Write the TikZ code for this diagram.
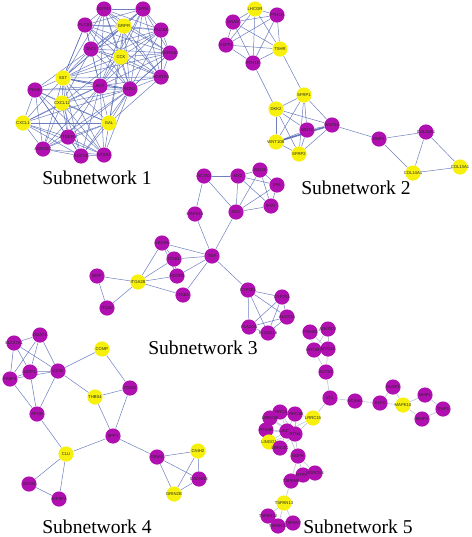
\documentclass[tikz,border=0pt]{standalone}
\usepackage{fontspec}
\setmainfont{Liberation Serif}
\newfontfamily\genefont{Liberation Sans}
\usetikzlibrary{backgrounds}

\definecolor{genepurple}{RGB}{176,16,176}
\definecolor{geneyellow}{RGB}{246,240,12}
\definecolor{linkblue}{RGB}{84,104,180}
\definecolor{linkgrey}{RGB}{186,194,214}

\tikzset{
  genetext/.style={inner sep=0pt,font=\genefont\fontsize{2.1}{2.3}\selectfont,text=black!85},
  gene/.style={circle,inner sep=0pt,minimum size=7.6pt,label={[genetext]center:#1}},
  pgene/.style={gene=#1,fill=genepurple},
  ygene/.style={gene=#1,fill=geneyellow},
  link/.style={draw=linkblue,line width=0.25pt,draw opacity=0.85},
  faintlink/.style={draw=linkgrey,line width=0.3pt},
  caption/.style={font=\fontsize{9.8}{11}\selectfont,inner sep=0pt}
}

% all pairs of a list
\newcommand\cliquelinks[2]{%
  \foreach \a [count=\i] in {#2} {%
    \foreach \b [count=\j] in {#2} {%
      \ifnum\j>\i \draw[#1] (\a) -- (\b);\fi}}}

\begin{document}
\begin{tikzpicture}[x=0.5pt,y=-0.5pt]
  \useasboundingbox (0,0) rectangle (472,537);

  % subnetwork 1
  \node[pgene=SSTR2] (SSTR2) at (104,9) {};
  \node[pgene=GPR6] (GPR6) at (143,9) {};
  \node[pgene=PLCB1] (PLCB1) at (85,25) {};
  \node[ygene=GRPR] (GRPR) at (124,26) {};
  \node[pgene=PLCB4] (PLCB4) at (161,30) {};
  \node[pgene=TAC1] (TAC1) at (91,49) {};
  \node[pgene=ADRA1D] (ADRA1D) at (170,53) {};
  \node[ygene=CCK] (CCK) at (121,57) {};
  \node[pgene=HCRTR1] (HCRTR1) at (161,77) {};
  \node[ygene=SST] (SST) at (63,78) {};
  \node[pgene=AGT] (AGT) at (100,86) {};
  \node[pgene=EDN1] (EDN1) at (130,89) {};
  \node[pgene=PENK] (PENK) at (35,90) {};
  \node[ygene=CXCL12] (CXCL12) at (62,103) {};
  \node[ygene=CXCL1] (CXCL1) at (23,123) {};
  \node[ygene=GAL] (GAL) at (109,123) {};
  \node[pgene=PTGER3] (PTGER3) at (68,137) {};
  \node[pgene=ADRA2C] (ADRA2C) at (43,149) {};
  \node[pgene=ADCY5] (ADCY5) at (81,156) {};
  \node[pgene=NTSR1] (NTSR1) at (104,155) {};
  \node[caption] (cap1) at (97,178) {Subnetwork 1};

  % subnetwork 2
  \node[ygene=LHCGR] (LHCGR) at (255,9) {};
  \node[pgene=PTHLH] (PTHLH) at (277,15) {};
  \node[pgene=GNAS] (GNAS) at (233,22) {};
  \node[pgene=RXFP1] (RXFP1) at (226,45) {};
  \node[ygene=TSHR] (TSHR) at (280,49) {};
  \node[pgene=PTH1R] (PTH1R) at (253,63) {};
  \node[ygene=SFRP1] (SFRP1) at (304,95) {};
  \node[ygene=DKK2] (DKK2) at (276,109) {};
  \node[pgene=WNT2] (WNT2) at (307,130) {};
  \node[pgene=WNT5A] (WNT5A) at (332,125) {};
  \node[ygene=WNT10B] (WNT10B) at (276,142) {};
  \node[ygene=SFRP2] (SFRP2) at (299,154) {};
  \node[pgene=BMP1] (BMP1) at (379,139) {};
  \node[pgene=COL15A1] (COL15A1) at (426,132) {};
  \node[ygene=COL14A1] (COL14A1) at (413,173) {};
  \node[ygene=COL13A1] (COL13A1) at (460,167) {};
  \node[caption] (cap2) at (356,188) {Subnetwork 2};

  % subnetwork 3
  \node[pgene=ACTA2] (ACTA2) at (204,176) {};
  \node[pgene=MX2] (MX2) at (238,176) {};
  \node[pgene=ISG15] (ISG15) at (260,170) {};
  \node[pgene=IFI6] (IFI6) at (277,185) {};
  \node[pgene=IFI27] (IFI27) at (271,206) {};
  \node[pgene=MX1] (MX1) at (236,212) {};
  \node[pgene=MAPK13] (MAPK13) at (195,214) {};
  \node[pgene=TNF] (TNF) at (212,256) {};
  \node[pgene=VEGFA] (VEGFA) at (162,243) {};
  \node[pgene=ITGB1] (ITGB1) at (174,259) {};
  \node[pgene=PDGFB] (PDGFB) at (177,276) {};
  \node[pgene=ITGB3] (ITGB3) at (183,295) {};
  \node[ygene=ITGA2B] (ITGA2B) at (138,282) {};
  \node[pgene=IBSP] (IBSP) at (97,276) {};
  \node[pgene=ITGAV] (ITGAV) at (107,308) {};
  \node[pgene=CYP2E1] (CYP2E1) at (248,290) {};
  \node[pgene=CYP2S1] (CYP2S1) at (282,297) {};
  \node[pgene=ALOX15] (ALOX15) at (287,317) {};
  \node[pgene=PLA2G5] (PLA2G5) at (249,327) {};
  \node[pgene=PLA2G16] (PLA2G16) at (268,333) {};
  \node[caption] (cap3) at (203,348) {Subnetwork 3};

  % subnetwork 4
  \node[pgene=DGAT2] (DGAT2) at (40,335) {};
  \node[pgene=SLC27A1] (SLC27A1) at (14,343) {};
  \node[pgene=FABP4] (FABP4) at (10,379) {};
  \node[pgene=UCP1] (UCP1) at (30,372) {};
  \node[pgene=CD36] (CD36) at (58,371) {};
  \node[ygene=COMP] (COMP) at (102,349) {};
  \node[ygene=THBS4] (THBS4) at (95,397) {};
  \node[pgene=ITGA5] (ITGA5) at (130,388) {};
  \node[pgene=APOB] (APOB) at (37,414) {};
  \node[pgene=SPP1] (SPP1) at (113,436) {};
  \node[ygene=CLU] (CLU) at (66,454) {};
  \node[pgene=SRGN] (SRGN) at (29,484) {};
  \node[pgene=IGFBP2] (IGFBP2) at (59,499) {};
  \node[pgene=GRIA1] (GRIA1) at (157,457) {};
  \node[ygene=CNIH2] (CNIH2) at (198,451) {};
  \node[pgene=CACNG3] (CACNG3) at (199,479) {};
  \node[ygene=GRIN2B] (GRIN2B) at (174,494) {};
  \node[caption] (cap4) at (97,527) {Subnetwork 4};

  % subnetwork 5
  \node[pgene=TRIM63] (TRIM63) at (310,332) {};
  \node[pgene=ANKRD2] (ANKRD2) at (328,329) {};
  \node[pgene=MYOM1] (MYOM1) at (314,350) {};
  \node[pgene=MYOZ2] (MYOZ2) at (328,349) {};
  \node[pgene=ACTN2] (ACTN2) at (326,372) {};
  \node[pgene=VCL] (VCL) at (330,398) {};
  \node[pgene=NCAM1] (NCAM1) at (355,401) {};
  \node[pgene=ELF3] (ELF3) at (380,403) {};
  \node[pgene=DUSP1] (DUSP1) at (393,387) {};
  \node[ygene=MAPK10] (MAPK10) at (403,405) {};
  \node[pgene=MMP1] (MMP1) at (425,395) {};
  \node[pgene=TIMP1] (TIMP1) at (443,409) {};
  \node[pgene=MMP3] (MMP3) at (422,419) {};
  \node[ygene=LRRC15] (LRRC15) at (313,418) {};
  \node[pgene=LRRC4] (LRRC4) at (280,412) {};
  \node[pgene=LRRC3B] (LRRC3B) at (295,414) {};
  \node[pgene=LRRC38] (LRRC38) at (270,418) {};
  \node[pgene=RTN4R] (RTN4R) at (266,430) {};
  \node[pgene=LINGO2] (LINGO2) at (287,431) {};
  \node[pgene=RTN4] (RTN4) at (295,434) {};
  \node[ygene=LINGO1] (LINGO1) at (269,442) {};
  \node[pgene=LRRC4C] (LRRC4C) at (280,448) {};
  \node[pgene=NGFR] (NGFR) at (298,456) {};
  \node[pgene=NTRK1] (NTRK1) at (303,475) {};
  \node[pgene=SORCS3] (SORCS3) at (315,473) {};
  \node[pgene=TSPAN8] (TSPAN8) at (291,481) {};
  \node[ygene=TSPAN13] (TSPAN13) at (284,503) {};
  \node[pgene=TSPAN32] (TSPAN32) at (268,516) {};
  \node[pgene=TSPAN31] (TSPAN31) at (278,526) {};
  \node[pgene=TSPAN7] (TSPAN7) at (293,523) {};
  \node[caption] (cap5) at (358,527) {Subnetwork 5};

  \begin{pgfonlayer}{background}
    % subnetwork 1
    \cliquelinks{link}{SSTR2,GPR6,PLCB1,GRPR,PLCB4,TAC1,ADRA1D,CCK,HCRTR1,AGT,EDN1,SST}
    \cliquelinks{link}{SST,PENK,CXCL12,AGT,EDN1,CXCL1,GAL,PTGER3,ADRA2C,ADCY5,NTSR1}
    \foreach \a/\b in {TAC1/CXCL12,TAC1/PENK,CCK/GAL,GRPR/GAL,HCRTR1/GAL,
                       PLCB1/SST,CCK/CXCL12,ADRA1D/EDN1}
      \draw[link] (\a) -- (\b);

    % subnetwork 2
    \cliquelinks{link}{LHCGR,PTHLH,GNAS,RXFP1,TSHR,PTH1R}
    \cliquelinks{link}{SFRP1,DKK2,WNT2,WNT5A,WNT10B,SFRP2}
    \foreach \a/\b in {TSHR/SFRP1,PTH1R/DKK2,WNT5A/BMP1,BMP1/COL15A1,BMP1/COL14A1,
                       COL15A1/COL14A1,COL15A1/COL13A1,COL14A1/COL13A1}
      \draw[link] (\a) -- (\b);
    \draw[link,line width=0.8pt] (WNT10B) -- (WNT5A);

    % subnetwork 3
    \cliquelinks{link}{MX2,ISG15,IFI6,IFI27,MX1}
    \cliquelinks{link}{CYP2E1,CYP2S1,ALOX15,PLA2G5,PLA2G16}
    \foreach \a/\b in {ACTA2/MX2,ACTA2/MX1,ACTA2/MAPK13,MAPK13/TNF,MX1/TNF,
                       TNF/VEGFA,TNF/ITGB1,TNF/PDGFB,TNF/ITGB3,TNF/CYP2E1,
                       VEGFA/ITGB1,VEGFA/PDGFB,VEGFA/ITGA2B,ITGB1/ITGA2B,ITGB1/PDGFB,
                       PDGFB/ITGA2B,ITGB3/ITGA2B,IBSP/ITGA2B,IBSP/ITGAV,ITGAV/ITGA2B}
      \draw[link] (\a) -- (\b);

    % subnetwork 4
    \cliquelinks{link}{DGAT2,SLC27A1,FABP4,UCP1,CD36}
    \foreach \a/\b in {FABP4/APOB,UCP1/APOB,CD36/APOB,CD36/COMP,CD36/THBS4,
                       COMP/ITGA5,THBS4/ITGA5,THBS4/SPP1,ITGA5/SPP1,APOB/CLU,
                       CLU/SPP1,CLU/SRGN,CLU/IGFBP2,SRGN/IGFBP2,SPP1/GRIA1}
      \draw[link] (\a) -- (\b);
    \cliquelinks{link}{GRIA1,CNIH2,CACNG3,GRIN2B}

    % subnetwork 5
    \cliquelinks{faintlink}{TRIM63,ANKRD2,MYOM1,MYOZ2}
    \foreach \a/\b in {MYOM1/ACTN2,MYOZ2/ACTN2,ACTN2/VCL,VCL/NCAM1,NCAM1/ELF3,
                       ELF3/DUSP1,ELF3/MAPK10,DUSP1/MAPK10,MAPK10/MMP1,MAPK10/MMP3,
                       MMP1/TIMP1,MMP3/TIMP1,VCL/LRRC15,LRRC15/LINGO2,LRRC15/RTN4,
                       LRRC15/LRRC3B,NGFR/NTRK1,NGFR/SORCS3,NGFR/TSPAN8,NTRK1/SORCS3,
                       TSPAN8/TSPAN13,TSPAN13/TSPAN32,TSPAN13/TSPAN31,TSPAN13/TSPAN7,
                       TSPAN32/TSPAN31,TSPAN31/TSPAN7}
      \draw[faintlink] (\a) -- (\b);
    \foreach \b in {LRRC4,LRRC3B,LRRC38,RTN4R,LINGO1,LRRC4C,NGFR,RTN4}
      \draw[faintlink] (LINGO2) -- (\b);
    \foreach \b in {LRRC4,LRRC3B,LRRC38,RTN4R,LINGO1,LRRC4C,NGFR}
      \draw[faintlink] (RTN4) -- (\b);
  \end{pgfonlayer}
\end{tikzpicture}
\end{document}
